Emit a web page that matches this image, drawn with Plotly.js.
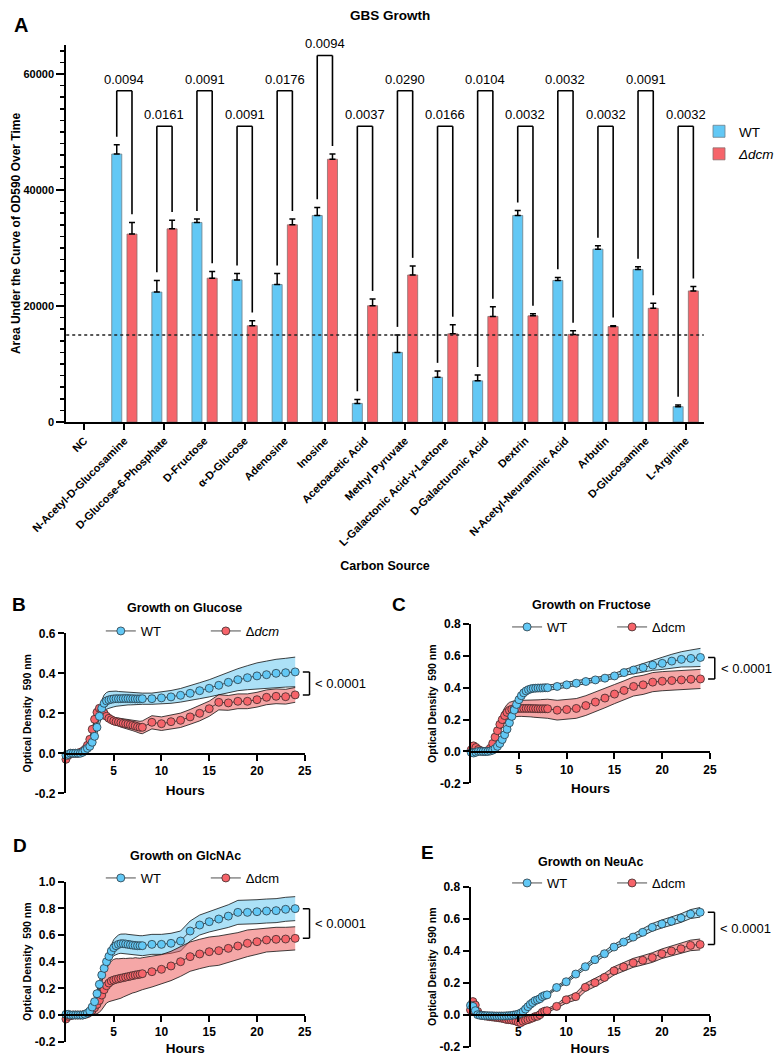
<!DOCTYPE html>
<html><head><meta charset="utf-8">
<script src="https://cdn.plot.ly/plotly-3.0.1.min.js"></script>
<style>html,body{margin:0;padding:0;background:#fff}</style>
</head><body><div id="chart" style="width:780px;height:1056px"></div>
<script>
// ---------------- Panel A data ----------------
const categories = ['NC','N-Acetyl-D-Glucosamine','D-Glucose-6-Phosphate','D-Fructose','α-D-Glucose','Adenosine','Inosine','Acetoacetic Acid','Methyl Pyruvate','L-Galactonic Acid-γ-Lactone','D-Galacturonic Acid','Dextrin','N-Acetyl-Neuraminic Acid','Arbutin','D-Glucosamine','L-Arginine'];
const wtAUC  = [null,46200,22400,34400,24500,23700,35600,3200,12000,7700,7100,35600,24400,29800,26300,2650];
const wtErr  = [null,1600,2000,600,1100,1900,1400,700,3000,1100,1000,860,520,570,460,300];
const dcmAUC = [null,32400,33300,24800,16600,34000,45300,20050,25350,15200,18200,18300,15100,16450,19600,22600];
const dcmErr = [null,2000,1500,1150,860,1000,900,1150,1550,1550,1650,350,630,150,860,750];
const pValues = ['','0.0094','0.0161','0.0091','0.0091','0.0176','0.0094','0.0037','0.0290','0.0166','0.0104','0.0032','0.0032','0.0032','0.0091','0.0032'];
const threshold = 15000;

// ---------------- Growth curve data ----------------
const hours = [0,0.25,0.5,0.75,1,1.25,1.5,1.75,2,2.25,2.5,2.75,3,3.25,3.5,3.75,4,4.25,4.5,4.75,5,5.25,5.5,5.75,6,6.25,6.5,6.75,7,7.25,7.5,7.75,8,9,10,11,12,13,14,15,16,17,18,19,20,21,22,23,24];

const glcWT    = [-0.01,-0.005,0,0,0,0,0,0.005,0.015,0.025,0.035,0.055,0.085,0.13,0.185,0.225,0.25,0.262,0.267,0.27,0.272,0.273,0.273,0.273,0.274,0.274,0.274,0.273,0.273,0.272,0.272,0.272,0.273,0.273,0.277,0.282,0.29,0.30,0.313,0.325,0.34,0.355,0.368,0.378,0.387,0.393,0.40,0.403,0.407];
const glcWTsd  = [0.005,0.005,0.005,0.005,0.005,0.005,0.005,0.005,0.008,0.01,0.015,0.02,0.025,0.03,0.035,0.04,0.042,0.042,0.042,0.04,0.04,0.038,0.036,0.035,0.034,0.033,0.032,0.031,0.03,0.03,0.029,0.029,0.028,0.028,0.03,0.032,0.034,0.037,0.04,0.043,0.047,0.05,0.055,0.06,0.065,0.068,0.07,0.072,0.074];
const glcDcm   = [-0.03,-0.01,0,0,0,0,0.005,0.01,0.02,0.04,0.07,0.12,0.17,0.205,0.225,0.215,0.2,0.185,0.175,0.168,0.162,0.158,0.156,0.153,0.15,0.148,0.146,0.143,0.14,0.137,0.133,0.13,0.13,0.155,0.148,0.158,0.165,0.182,0.20,0.223,0.255,0.252,0.26,0.26,0.268,0.28,0.285,0.283,0.292];
const glcDcmSd = [0.008,0.008,0.008,0.008,0.008,0.008,0.008,0.008,0.008,0.008,0.008,0.008,0.015,0.015,0.015,0.015,0.015,0.015,0.015,0.015,0.015,0.02,0.02,0.022,0.022,0.024,0.025,0.026,0.027,0.028,0.03,0.03,0.032,0.033,0.034,0.035,0.036,0.037,0.038,0.038,0.038,0.037,0.037,0.037,0.037,0.037,0.037,0.037,0.037];

const fruWT    = [-0.006,-0.01,-0.005,0,0,0,0,0,0.003,0.008,0.018,0.032,0.05,0.075,0.105,0.14,0.18,0.22,0.26,0.295,0.325,0.35,0.368,0.38,0.388,0.393,0.396,0.397,0.398,0.398,0.399,0.4,0.4,0.408,0.418,0.428,0.439,0.449,0.46,0.474,0.495,0.511,0.526,0.542,0.553,0.567,0.578,0.584,0.59];
const fruWTsd  = [0.01,0.01,0.01,0.01,0.01,0.01,0.01,0.01,0.01,0.015,0.015,0.018,0.02,0.022,0.025,0.025,0.025,0.025,0.025,0.025,0.025,0.024,0.023,0.022,0.021,0.02,0.02,0.02,0.019,0.018,0.018,0.017,0.017,0.016,0.015,0.015,0.015,0.015,0.015,0.016,0.018,0.022,0.027,0.033,0.038,0.043,0.048,0.053,0.057];
const fruDcm   = [0.01,0.035,0.025,0.012,0.005,0,0,0.005,0.02,0.05,0.09,0.13,0.17,0.2,0.225,0.245,0.258,0.265,0.268,0.27,0.27,0.27,0.27,0.27,0.27,0.27,0.269,0.269,0.268,0.268,0.268,0.268,0.268,0.259,0.263,0.27,0.288,0.31,0.335,0.36,0.383,0.408,0.418,0.435,0.441,0.445,0.449,0.453,0.455];
const fruDcmSd = [0.015,0.015,0.015,0.015,0.015,0.015,0.015,0.015,0.02,0.025,0.03,0.035,0.04,0.045,0.048,0.05,0.05,0.05,0.05,0.05,0.05,0.05,0.05,0.052,0.052,0.053,0.054,0.055,0.056,0.057,0.058,0.059,0.06,0.062,0.062,0.062,0.062,0.062,0.061,0.06,0.06,0.06,0.06,0.06,0.06,0.06,0.06,0.06,0.06];

const nacWT    = [0.005,0.005,0,0,0,0,0,0,0.005,0.015,0.03,0.06,0.1,0.16,0.23,0.3,0.35,0.4,0.44,0.48,0.505,0.52,0.53,0.535,0.535,0.533,0.53,0.527,0.524,0.522,0.52,0.52,0.52,0.53,0.53,0.538,0.555,0.63,0.675,0.70,0.72,0.742,0.77,0.77,0.775,0.78,0.783,0.793,0.798];
const nacWTsd  = [0.008,0.008,0.008,0.008,0.008,0.008,0.008,0.008,0.008,0.01,0.012,0.015,0.02,0.025,0.03,0.035,0.04,0.045,0.05,0.055,0.06,0.065,0.07,0.072,0.074,0.075,0.075,0.075,0.075,0.075,0.075,0.075,0.075,0.075,0.075,0.075,0.075,0.075,0.075,0.077,0.08,0.085,0.09,0.09,0.09,0.09,0.09,0.09,0.09];
const nacDcm   = [-0.03,-0.01,-0.005,0,0,0,0,0,0.005,0.01,0.02,0.035,0.055,0.08,0.11,0.15,0.19,0.22,0.24,0.255,0.262,0.268,0.272,0.276,0.28,0.284,0.288,0.292,0.296,0.3,0.303,0.306,0.31,0.325,0.343,0.368,0.40,0.438,0.458,0.475,0.483,0.50,0.518,0.538,0.55,0.563,0.568,0.57,0.575];
const nacDcmSd = [0.01,0.01,0.01,0.01,0.01,0.01,0.01,0.01,0.01,0.01,0.02,0.035,0.05,0.07,0.09,0.11,0.12,0.13,0.14,0.15,0.155,0.155,0.15,0.15,0.145,0.14,0.14,0.135,0.13,0.13,0.125,0.12,0.12,0.115,0.11,0.11,0.11,0.11,0.11,0.11,0.11,0.105,0.1,0.1,0.095,0.09,0.09,0.088,0.087];

const neuWT    = [0.058,0.052,0.025,0,-0.004,-0.005,-0.006,-0.006,-0.007,-0.007,-0.008,-0.008,-0.008,-0.008,-0.008,-0.007,-0.006,-0.005,-0.002,0,0.004,0.01,0.02,0.035,0.05,0.065,0.076,0.088,0.093,0.1,0.113,0.12,0.124,0.17,0.206,0.254,0.30,0.344,0.381,0.423,0.454,0.485,0.515,0.546,0.567,0.584,0.604,0.629,0.64];
const neuWTsd  = [0.008,0.008,0.008,0.008,0.008,0.008,0.008,0.008,0.008,0.008,0.008,0.008,0.008,0.008,0.008,0.008,0.008,0.008,0.008,0.008,0.008,0.008,0.008,0.008,0.008,0.008,0.008,0.008,0.008,0.008,0.008,0.008,0.008,0.01,0.01,0.012,0.014,0.015,0.016,0.017,0.018,0.02,0.022,0.024,0.025,0.026,0.027,0.028,0.03];
const neuDcm   = [0.03,0.082,0.06,0.02,0,-0.005,-0.008,-0.01,-0.012,-0.014,-0.016,-0.018,-0.02,-0.022,-0.025,-0.03,-0.031,-0.033,-0.036,-0.04,-0.047,-0.05,-0.041,-0.035,-0.031,-0.025,-0.02,-0.012,-0.01,0,0.015,0.022,0.025,0.052,0.093,0.113,0.171,0.2,0.233,0.274,0.299,0.324,0.34,0.357,0.381,0.398,0.412,0.433,0.439];
const neuDcmSd = [0.01,0.01,0.01,0.01,0.01,0.01,0.01,0.01,0.01,0.01,0.01,0.01,0.01,0.01,0.01,0.01,0.01,0.01,0.01,0.01,0.01,0.01,0.01,0.01,0.01,0.01,0.01,0.01,0.01,0.01,0.01,0.01,0.01,0.012,0.02,0.022,0.025,0.025,0.025,0.026,0.027,0.028,0.029,0.03,0.03,0.031,0.032,0.033,0.034];

const pCurves = '< 0.0001';

// ---------------- Styling / layout ----------------
const W = 780, H = 1056;
const px = v => v / W;
const py = v => 1 - v / H;
const FONT = 'Liberation Sans, Arial, Helvetica, sans-serif';
const BLUE = '#62C8F5', RED = '#F6646A';
const BLUE_BAND = 'rgba(90,195,240,0.5)', RED_BAND = 'rgba(235,80,80,0.5)';

const traces = [];
const shapes = [];
const annotations = [];

// Panel A bars
traces.push({
  type:'bar', x: categories, y: wtAUC, name:'WT', legend:'legend', legendgroup:'a1',
  offset:-0.315, width:0.25,
  marker:{color:BLUE, line:{color:'#6f7f88', width:0.8}},
  error_y:{type:'data', symmetric:false, array: wtErr, arrayminus: wtErr.map(()=>0), color:'#000', thickness:1.5, width:3},
  xaxis:'x', yaxis:'y', hoverinfo:'skip'
});
traces.push({
  type:'bar', x: categories, y: dcmAUC, name:'<i>Δdcm</i>', legend:'legend', legendgroup:'a2',
  offset:0.065, width:0.25,
  marker:{color:RED, line:{color:'#8a6f6f', width:0.8}},
  error_y:{type:'data', symmetric:false, array: dcmErr, arrayminus: dcmErr.map(()=>0), color:'#000', thickness:1.5, width:3},
  xaxis:'x', yaxis:'y', hoverinfo:'skip'
});

// threshold dotted line
shapes.push({type:'line', xref:'x domain', yref:'y', x0:0, x1:1, y0:threshold, y1:threshold,
  line:{color:'#222', width:1.3, dash:'dot'}});

// significance brackets for panel A
const TIER_HI = 57100, TIER_LO = 51000, TIER_TOP = 63200, GAP = 1400, HALF = 0.19;
for (let i = 1; i < categories.length; i++) {
  let level;
  if (i === 6) level = TIER_TOP;
  else if (i < 6) level = (i % 2 === 1) ? TIER_HI : TIER_LO;
  else level = (i % 2 === 0) ? TIER_HI : TIER_LO;
  const l = i - HALF, r = i + HALF;
  const lb = wtAUC[i] + wtErr[i] + GAP, rb = dcmAUC[i] + dcmErr[i] + GAP;
  const ln = {color:'#000', width:1.6};
  shapes.push({type:'line', xref:'x', yref:'y', x0:l, x1:l, y0:lb, y1:level, line:ln});
  shapes.push({type:'line', xref:'x', yref:'y', x0:l, x1:r, y0:level, y1:level, line:ln});
  shapes.push({type:'line', xref:'x', yref:'y', x0:r, x1:r, y0:level, y1:rb, line:ln});
  annotations.push({xref:'x', yref:'y', x:i, y:level, text:pValues[i], showarrow:false,
    yanchor:'bottom', yshift:2, font:{size:13, family:FONT, color:'#000'}});
}

// growth-curve panels
function addPanel(n, wt, wtSd, dcm, dcmSd, dcmName) {
  const xa = 'x' + n, ya = 'y' + n, lg = 'legend' + n;
  const up = (m, s) => m.map((v, i) => v + s[i]);
  const lo = (m, s) => m.map((v, i) => v - s[i]);
  const edge = {color:'#111', width:0.8};
  traces.push({type:'scatter', mode:'lines', x:hours, y:up(wt, wtSd), line:edge, showlegend:false, xaxis:xa, yaxis:ya, hoverinfo:'skip'});
  traces.push({type:'scatter', mode:'lines', x:hours, y:lo(wt, wtSd), line:edge, fill:'tonexty', fillcolor:BLUE_BAND, showlegend:false, xaxis:xa, yaxis:ya, hoverinfo:'skip'});
  traces.push({type:'scatter', mode:'lines', x:hours, y:up(dcm, dcmSd), line:edge, showlegend:false, xaxis:xa, yaxis:ya, hoverinfo:'skip'});
  traces.push({type:'scatter', mode:'lines', x:hours, y:lo(dcm, dcmSd), line:edge, fill:'tonexty', fillcolor:RED_BAND, showlegend:false, xaxis:xa, yaxis:ya, hoverinfo:'skip'});
  traces.push({type:'scatter', mode:'lines+markers', x:hours, y:dcm, name:dcmName, legend:lg, legendrank:2,
    line:{color:'#222', width:0.8}, marker:{color:RED, size:8, line:{color:'#3a2a2a', width:0.8}},
    xaxis:xa, yaxis:ya, cliponaxis:false, hoverinfo:'skip'});
  traces.push({type:'scatter', mode:'lines+markers', x:hours, y:wt, name:'WT', legend:lg, legendrank:1,
    line:{color:'#222', width:0.8}, marker:{color:BLUE, size:8, line:{color:'#2a3a44', width:0.8}},
    xaxis:xa, yaxis:ya, cliponaxis:false, hoverinfo:'skip'});
  const last = hours.length - 1;
  const bl = {color:'#000', width:1.5};
  const xr = 'x' + n + ' domain';
  shapes.push({type:'line', xref:xr, yref:ya, x0:1.02, x1:1.02, y0:wt[last], y1:dcm[last], line:bl});
  shapes.push({type:'line', xref:xr, yref:ya, x0:0.992, x1:1.02, y0:wt[last], y1:wt[last], line:bl});
  shapes.push({type:'line', xref:xr, yref:ya, x0:0.992, x1:1.02, y0:dcm[last], y1:dcm[last], line:bl});
  annotations.push({xref:xr, yref:ya, x:1.036, y:(wt[last] + dcm[last]) / 2, xanchor:'left', yanchor:'middle',
    text:pCurves, showarrow:false, font:{size:13, family:FONT, color:'#000'}});
}
addPanel(2, glcWT, glcWTsd, glcDcm, glcDcmSd, 'Δ<i>dcm</i>');
addPanel(3, fruWT, fruWTsd, fruDcm, fruDcmSd, 'Δdcm');
addPanel(4, nacWT, nacWTsd, nacDcm, nacDcmSd, 'Δdcm');
addPanel(5, neuWT, neuWTsd, neuDcm, neuDcmSd, 'Δdcm');

// panel letters and titles
const bold = (t, s, x, y, anchor) => ({xref:'paper', yref:'paper', x:px(x), y:py(y), xanchor:anchor||'center', yanchor:'middle',
  text:t, showarrow:false, font:{size:s, family:FONT, color:'#000', weight:'bold'}});
annotations.push(bold('A', 20, 21, 25));
annotations.push(bold('B', 19, 19, 604));
annotations.push(bold('C', 19, 404, 604));
annotations.push(bold('D', 19, 20, 845));
annotations.push(bold('E', 19, 432, 852));
annotations.push(bold('Growth on Glucose', 12.5, 187, 608));
annotations.push(bold('Growth on Fructose', 12.5, 598, 605));
annotations.push(bold('Growth on GlcNAc', 12.5, 188, 856));
annotations.push(bold('Growth on NeuAc', 12.5, 598, 862));

const tickF = (s) => ({size:s, family:FONT, color:'#000', weight:'bold'});
function curveAxes(n, xl, xr, yTop, yBot, yZero, yr, yt) {
  return [
    {domain:[px(xl), px(xr)], anchor:'free', position:py(yZero), range:[0,25], showline:true, linewidth:2, linecolor:'#000',
     ticks:'outside', ticklen:6, tickwidth:2, tickcolor:'#000', tickmode:'array', tickvals:[5,10,15,20,25],
     tickfont:tickF(12), showgrid:false, zeroline:false,
     title:{text:'Hours', font:tickF(13.5), standoff:7}},
    {domain:[py(yBot), py(yTop)], anchor:'x' + n, range:yr, showline:true, linewidth:2, linecolor:'#000',
     ticks:'outside', ticklen:6, tickwidth:2, tickcolor:'#000', tickmode:'array', tickvals:yt,
     ticktext:yt.map(v => v.toFixed(1)), tickfont:tickF(12), showgrid:false, zeroline:false,
     title:{text:'Optical Density  590 nm', font:tickF(10.5), standoff:1}}
  ];
}
const [x2, y2] = curveAxes(2, 66.7, 308.3, 633.3, 793.3, 753.7, [-0.2,0.6], [-0.2,0,0.2,0.4,0.6]);
const [x3, y3] = curveAxes(3, 476.7, 718.3, 624, 783.3, 752.3, [-0.2,0.8], [-0.2,0,0.2,0.4,0.6,0.8]);
const [x4, y4] = curveAxes(4, 66.7, 308.3, 881.7, 1041.7, 1015, [-0.2,1.0], [-0.2,0,0.2,0.4,0.6,0.8,1.0]);
const [x5, y5] = curveAxes(5, 476, 718, 886.7, 1046.7, 1015, [-0.2,0.8], [-0.2,0,0.2,0.4,0.6,0.8]);

const curveLegend = (cx, cy) => ({x:px(cx - 20), y:py(cy), xanchor:'left', yanchor:'middle', orientation:'h',
  entrywidth:60, bgcolor:'rgba(0,0,0,0)', font:{size:13, family:FONT, color:'#000'}});

const layout = {
  width:W, height:H, margin:{l:0, r:0, t:0, b:0},
  paper_bgcolor:'#fff', plot_bgcolor:'rgba(0,0,0,0)',
  font:{family:FONT, color:'#000'},
  barmode:'overlay', hovermode:false,
  title:{text:'GBS Growth', x:px(390), y:py(15), xanchor:'center', yanchor:'middle', font:{size:13.5, family:FONT, weight:'bold', color:'#000'}},
  xaxis:{domain:[px(67), px(712)], anchor:'y', type:'category', range:[-0.45, 15.45], showline:true, linewidth:2, linecolor:'#000',
    ticks:'outside', ticklen:6, tickwidth:2, tickcolor:'#000', tickangle:-45, tickfont:tickF(11), showgrid:false, zeroline:false,
    title:{text:'Carbon Source', font:tickF(12.5), standoff:14}},
  yaxis:{domain:[py(422), py(45)], anchor:'x', range:[0, 65000], showline:true, linewidth:2, linecolor:'#000',
    ticks:'outside', ticklen:8, tickwidth:2, tickcolor:'#000', tickmode:'array', tickvals:[0,20000,40000,60000], tickformat:'d',
    minor:{ticks:'outside', tick0:0, dtick:2000, ticklen:4, tickwidth:1.5, tickcolor:'#000'},
    tickfont:tickF(11), showgrid:false, zeroline:false,
    title:{text:'Area Under the Curve of OD590 Over Time', font:tickF(12), standoff:0}},
  xaxis2:x2, yaxis2:y2, xaxis3:x3, yaxis3:y3, xaxis4:x4, yaxis4:y4, xaxis5:x5, yaxis5:y5,
  legend:{x:px(707.5), y:py(116), xanchor:'left', yanchor:'top', orientation:'v', tracegroupgap:2,
    bgcolor:'rgba(0,0,0,0)', font:{size:13.5, family:FONT, color:'#000'}},
  legend2:curveLegend(122, 631),
  legend3:curveLegend(533, 627),
  legend4:curveLegend(122, 878),
  legend5:curveLegend(533, 883),
  shapes:shapes, annotations:annotations, showlegend:true
};

Plotly.newPlot('chart', traces, layout, {staticPlot:true, displayModeBar:false});
</script></body></html>
